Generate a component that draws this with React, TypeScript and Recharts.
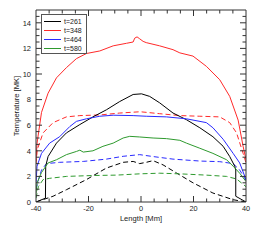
import React from 'react';
import { ComposedChart, Line, XAxis, YAxis, Legend } from 'recharts';

// [length (Mm), temperature (MK)]
const t261Solid: [number, number][] = [
  [-40, 0], [-36.4, 0.3], [-36.3, 2.8], [-35.4, 3.55], [-32.2, 4.6], [-28.4, 5.4], [-23.3, 6.05],
  [-18.3, 6.65], [-13.2, 7.2], [-8.1, 7.85], [-3, 8.4], [0.2, 8.45], [3.3, 8.25], [7.1, 7.75],
  [12.2, 6.95], [17.3, 6.43], [22.4, 5.8], [27.4, 5.1], [31.3, 4.35], [33.8, 3.55], [35.7, 2.8],
  [36.1, 2.5], [36.1, 0.45], [40, 0],
];
const t348Solid: [number, number][] = [
  [-40, 3.2], [-39.6, 4.6], [-37.9, 7.0], [-35.4, 8.5], [-32.2, 9.7], [-28.4, 10.5], [-24.6, 11.2],
  [-20.8, 11.6], [-15.7, 11.8], [-10.6, 12.2], [-5.5, 12.4], [-3.0, 12.5], [-2.4, 12.8], [-1.5, 12.9],
  [-0.5, 12.75], [0.8, 12.55], [2, 12.45], [7.1, 12.2], [12.2, 11.9], [14.8, 11.65], [19.8, 11.4],
  [24.9, 10.6], [30, 9.55], [33.8, 8.25], [37, 6.4], [38.9, 4.35], [40, 3.3],
];
const t464Solid: [number, number][] = [
  [-40, 1.5], [-39.6, 2.8], [-37.9, 3.8], [-34.8, 4.6], [-31, 5.1], [-27.1, 5.9], [-24.6, 6.3],
  [-20.8, 6.5], [-15.7, 6.7], [-10.6, 6.78], [-3, 6.75], [2, 6.7], [9.7, 6.65], [17.3, 6.5],
  [24.9, 6.2], [27.4, 5.8], [31.3, 4.9], [35.1, 3.8], [37.6, 3.05], [40, 1.75],
];
const t580Solid: [number, number][] = [
  [-40, 0.7], [-39.6, 1.5], [-37.9, 2.3], [-35.4, 3.05], [-32.2, 3.3], [-28.4, 3.7], [-24.6, 3.95],
  [-23.3, 4.05], [-22, 3.9], [-18.3, 4.0], [-14.5, 4.35], [-10.6, 4.6], [-6.8, 5.0], [-4.3, 5.13],
  [-0.5, 5.08], [4.6, 5.0], [9.7, 4.95], [14.8, 4.82], [17.3, 4.6], [22.4, 4.2], [27.4, 3.8],
  [32.6, 3.3], [35.1, 2.8], [37.6, 2.25], [40, 1.6],
];
const t261Dashed: [number, number][] = [
  [-40, 0], [-33.5, 0.45], [-28.4, 0.96], [-20.8, 1.75], [-13.2, 2.65], [-6.8, 3.1], [-3, 3.17],
  [-0.5, 3.0], [2, 3.1], [4.6, 3.23], [8.4, 2.9], [13.5, 2.27], [19.8, 1.5], [27.4, 0.7],
  [35.1, 0.18], [40, 0],
];
const t348Dashed: [number, number][] = [
  [-40, 3.0], [-39.5, 4.1], [-37.3, 5.4], [-33.5, 6.2], [-28.4, 6.65], [-23.3, 6.75], [-15.7, 6.8],
  [-8.1, 6.95], [-0.3, 7.05], [7.1, 6.9], [14.8, 6.75], [22.4, 6.7], [30, 6.65], [33.8, 6.2],
  [36.4, 5.4], [38.9, 3.8], [40, 3.05],
];
const t464Dashed: [number, number][] = [
  [-40, 1.0], [-39.1, 1.7], [-37.9, 2.5], [-36, 3.0], [-31, 3.1], [-22, 3.17], [-13.2, 3.35],
  [-6.8, 3.57], [-0.5, 3.7], [4.6, 3.55], [12.2, 3.35], [22.4, 3.2], [30, 3.15], [35.1, 3.0],
  [37.6, 2.5], [40, 1.7],
];
const t580Dashed: [number, number][] = [
  [-40, 0.3], [-39.1, 1.2], [-37.3, 1.75], [-34.8, 1.85], [-28.4, 2.0], [-18.3, 2.07], [-9.4, 2.1],
  [-0.5, 2.2], [7.1, 2.25], [14.8, 2.2], [24.9, 2.1], [32.6, 2.0], [36.4, 1.8], [40, 1.2],
];

const legendLabels = ['t=261', 't=348', 't=464', 't=580'];
const colors = ['#000000', '#ff2a2a', '#2a2aff', '#2e9a2e'];
const solidSeries = [t261Solid, t348Solid, t464Solid, t580Solid];
const dashedSeries = [t261Dashed, t348Dashed, t464Dashed, t580Dashed];

const xTicks: number[] = [];
for (let v = -40; v <= 40; v += 5) xTicks.push(v);
const yTicks: number[] = [];
for (let v = 0; v <= 15; v += 0.5) yTicks.push(v);

const FONT = '"Liberation Sans", Arial, sans-serif';
const TICK_COLOR = '#333';

const toData = (s: [number, number][]) => s.map(([x, y]) => ({ x, y }));

const BottomTick = (props: any) => {
  const { x, y, payload } = props;
  const v = payload.value;
  const major = v % 20 === 0;
  const len = major ? 6 : 3.5;
  return (
    <g>
      {v > -40 && v < 40 && <line x1={x} y1={y} x2={x} y2={y - len} stroke={TICK_COLOR} strokeWidth={1} />}
      {major && (
        <text x={x} y={y + 8.6} textAnchor="middle" fontSize={7.3} fontFamily={FONT} fill="#222">
          {v}
        </text>
      )}
    </g>
  );
};
const TopTick = (props: any) => {
  const { x, y, payload } = props;
  const v = payload.value;
  const major = v % 20 === 0;
  const len = major ? 6 : 3.5;
  if (v <= -40 || v >= 40) return <g />;
  return <line x1={x} y1={y} x2={x} y2={y + len} stroke={TICK_COLOR} strokeWidth={1} />;
};
const LeftTick = (props: any) => {
  const { x, y, payload } = props;
  const v = payload.value;
  const major = v % 2 === 0;
  const len = major ? 6 : 3.5;
  return (
    <g>
      {v > 0 && v < 15 && <line x1={x} y1={y} x2={x + len} y2={y} stroke={TICK_COLOR} strokeWidth={1} />}
      {major && (
        <text x={x - 5} y={y + 2.7} textAnchor="end" fontSize={7.5} fontFamily={FONT} fill="#222">
          {v}
        </text>
      )}
    </g>
  );
};
const RightTick = (props: any) => {
  const { x, y, payload } = props;
  const v = payload.value;
  const major = v % 2 === 0;
  const len = major ? 6 : 3.5;
  if (v <= 0 || v >= 15) return <g />;
  return <line x1={x} y1={y} x2={x - len} y2={y} stroke={TICK_COLOR} strokeWidth={1} />;
};

const LegendBox = () => (
  <div
    style={{
      border: '1px solid #555',
      background: '#fff',
      width: 46,
      height: 40,
      boxSizing: 'border-box',
      paddingTop: 2,
      fontFamily: FONT,
      fontSize: 7,
      color: '#222',
    }}
  >
    {legendLabels.map((label, i) => (
      <div key={label} style={{ display: 'flex', alignItems: 'center', height: 9, lineHeight: '9px' }}>
        <div style={{ width: 17, height: 0, borderTop: `1px solid ${colors[i]}`, marginLeft: 2, marginRight: 3 }} />
        <span>{label}</span>
      </div>
    ))}
  </div>
);

export default function App() {
  return (
    <div style={{ position: 'absolute', left: 0, top: 0, width: 277, height: 248, background: '#fff' }}>
      <ComposedChart width={277} height={248} margin={{ top: 9, right: 30, bottom: 45, left: 35 }}>
        <XAxis
          xAxisId="b"
          type="number"
          dataKey="x"
          domain={[-40, 40]}
          ticks={xTicks}
          interval={0}
          height={1}
          tickSize={0}
          tickMargin={0}
          tickLine={false}
          tick={<BottomTick />}
          axisLine={{ stroke: TICK_COLOR }}
          allowDataOverflow
        />
        <XAxis
          xAxisId="t"
          orientation="top"
          type="number"
          dataKey="x"
          domain={[-40, 40]}
          ticks={xTicks}
          interval={0}
          height={1}
          tickSize={0}
          tickMargin={0}
          tickLine={false}
          tick={<TopTick />}
          axisLine={{ stroke: TICK_COLOR }}
          allowDataOverflow
        />
        <YAxis
          yAxisId="l"
          type="number"
          domain={[0, 15]}
          ticks={yTicks}
          interval={0}
          width={1}
          tickSize={0}
          tickMargin={0}
          tickLine={false}
          tick={<LeftTick />}
          axisLine={{ stroke: TICK_COLOR }}
          allowDataOverflow
        />
        <YAxis
          yAxisId="r"
          orientation="right"
          type="number"
          domain={[0, 15]}
          ticks={yTicks}
          interval={0}
          width={1}
          tickSize={0}
          tickMargin={0}
          tickLine={false}
          tick={<RightTick />}
          axisLine={{ stroke: TICK_COLOR }}
          allowDataOverflow
        />
        {dashedSeries.map((s, i) => (
          <Line
            key={'d' + i}
            xAxisId="b"
            yAxisId="l"
            data={toData(s)}
            dataKey="y"
            type="linear"
            stroke={colors[i]}
            strokeWidth={1}
            strokeDasharray="5 3"
            dot={false}
            activeDot={false}
            isAnimationActive={false}
          />
        ))}
        {solidSeries.map((s, i) => (
          <Line
            key={'s' + i}
            xAxisId="b"
            yAxisId="l"
            data={toData(s)}
            dataKey="y"
            name={legendLabels[i]}
            type="linear"
            stroke={colors[i]}
            strokeWidth={1}
            dot={false}
            activeDot={false}
            isAnimationActive={false}
          />
        ))}
        <Legend
          layout="vertical"
          align="center"
          verticalAlign="middle"
          content={() => <LegendBox />}
          wrapperStyle={{ position: 'absolute', left: 41, top: 14, width: 46, height: 40 }}
        />
        <text
          x={141}
          y={220.5}
          textAnchor="middle"
          fontSize={7.6}
          fontFamily={FONT}
          fill="#222"
        >
          Length [Mm]
        </text>
        <text
          x={19}
          y={106}
          textAnchor="middle"
          fontSize={7.6}
          fontFamily={FONT}
          fill="#222"
          transform="rotate(-90 19 106)"
        >
          Temperature [MK]
        </text>
      </ComposedChart>
    </div>
  );
}
